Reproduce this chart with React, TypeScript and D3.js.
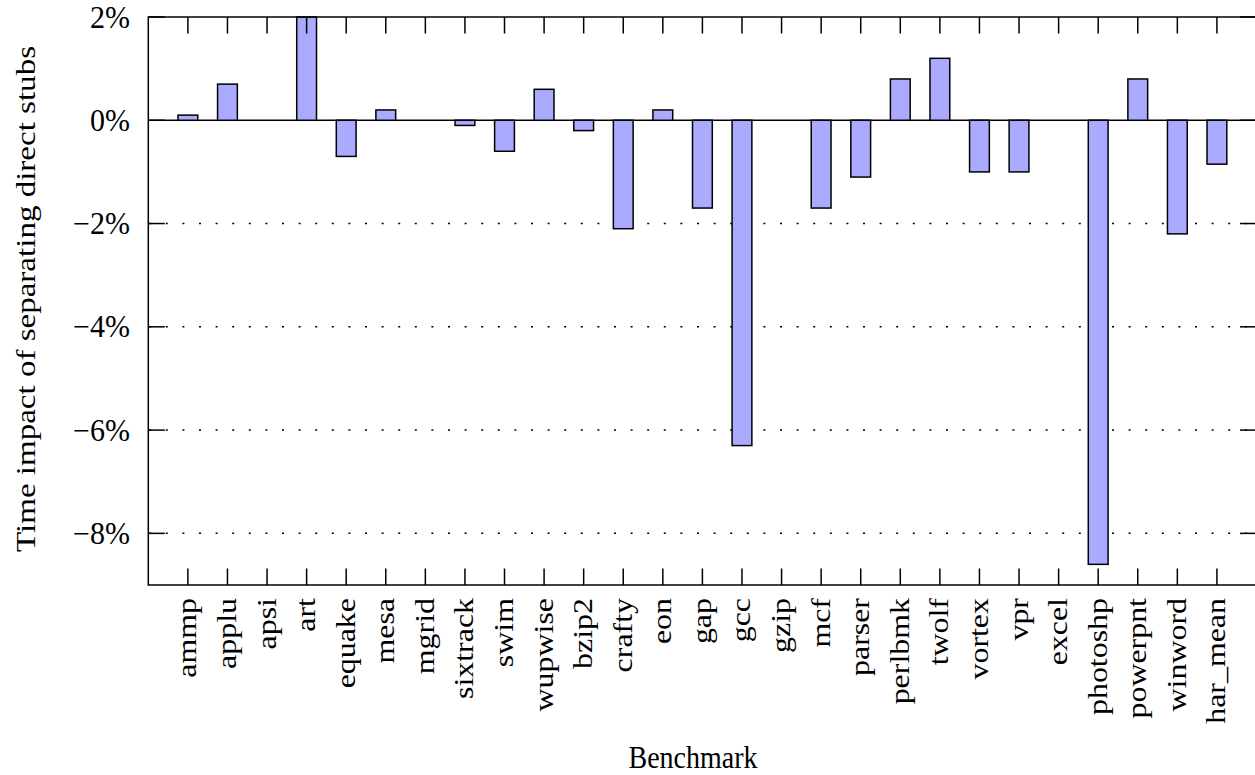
import React from "react";
import * as d3 from "d3";

const categories = [
  "ammp", "applu", "apsi", "art", "equake", "mesa", "mgrid", "sixtrack", "swim", "wupwise",
  "bzip2", "crafty", "eon", "gap", "gcc", "gzip", "mcf", "parser", "perlbmk", "twolf",
  "vortex", "vpr", "excel", "photoshp", "powerpnt", "winword", "har_mean",
];
const values = [
  0.1, 0.7, 0, 2.0, -0.7, 0.2, 0, -0.1, -0.6, 0.6,
  -0.2, -2.1, 0.2, -1.7, -6.3, 0, -1.7, -1.1, 0.8, 1.2,
  -1.0, -1.0, 0, -8.6, 0.8, -2.2, -0.85,
];
const yTicks = [2, 0, -2, -4, -6, -8];
const gridTicks = [-2, -4, -6, -8];
const xLabel = "Benchmark";
const yLabel = "Time impact of separating direct stubs";

const W = 1255;
const H = 775;
const left = 148.3;
const right = 1256.5;
const top = 17;
const bottom = 585;
const FONT = "'Liberation Serif', 'Times New Roman', serif";
const FS = 28;
const SY = 1.14;

export default function App() {
  const x = d3.scaleLinear().domain([-1, 27]).range([left, right]);
  const y = d3.scaleLinear().domain([-9, 2]).range([bottom, top]);
  const bw = x(0.5) - x(0);
  const tickLen = 16.5;
  const fmt = (v: number) => (v < 0 ? "\u2212" + Math.abs(v) : String(v)) + "%";

  return (
    <svg
      width={W}
      height={H}
      style={{ position: "absolute", left: 0, top: 0, background: "#fff" }}
      fontFamily={FONT}
    >
      <rect x={0} y={0} width={W} height={H} fill="#fff" />
      {/* dotted grid */}
      {gridTicks.map((t) => (
        <line
          key={"g" + t}
          x1={left}
          x2={right}
          y1={y(t)}
          y2={y(t)}
          stroke="#000"
          strokeWidth={1.5}
          strokeDasharray="2,14.6"
          strokeDashoffset={-17.5}
        />
      ))}
      {/* zero axis */}
      <line x1={left} x2={right} y1={y(0)} y2={y(0)} stroke="#000" strokeWidth={1.5} />
      {/* bars */}
      {values.map((v, i) => (
        <rect
          key={categories[i]}
          x={x(i) - bw / 2}
          y={Math.min(y(v), y(0))}
          width={bw}
          height={Math.abs(y(v) - y(0))}
          fill="#aaaaff"
          stroke="#000"
          strokeWidth={1.5}
        />
      ))}
      {/* border */}
      <rect
        x={left}
        y={top}
        width={right - left}
        height={bottom - top}
        fill="none"
        stroke="#000"
        strokeWidth={1.5}
      />
      {/* y ticks */}
      {yTicks.map((t) => (
        <g key={"yt" + t}>
          <line x1={left} x2={left + tickLen} y1={y(t)} y2={y(t)} stroke="#000" strokeWidth={1.5} />
          <line x1={right - tickLen} x2={right} y1={y(t)} y2={y(t)} stroke="#000" strokeWidth={1.5} />
          <text
            transform={`translate(130,${y(t) + 10.5}) scale(1,1.05)`}
            textAnchor="end"
            fontSize={30}
            fill="#000"
          >
            {fmt(t)}
          </text>
        </g>
      ))}
      {/* x ticks */}
      {categories.map((c, i) => (
        <g key={"xt" + c}>
          <line x1={x(i)} x2={x(i)} y1={bottom} y2={bottom - tickLen} stroke="#000" strokeWidth={1.5} />
          <line x1={x(i)} x2={x(i)} y1={top} y2={top + tickLen} stroke="#000" strokeWidth={1.5} />
          <text
            transform={`translate(${x(i) + 8.5},${598}) scale(1,${SY}) rotate(-90)`}
            textAnchor="end"
            fontSize={FS}
            fill="#000"
          >
            {c}
          </text>
        </g>
      ))}
      <text
        transform={`translate(693,768) scale(1,${SY})`}
        textAnchor="middle"
        fontSize={FS}
        fill="#000"
      >
        {xLabel}
      </text>
      <text
        transform={`translate(35,${299}) scale(1,1.18) rotate(-90)`}
        textAnchor="middle"
        fontSize={FS}
        fill="#000"
      >
        {yLabel}
      </text>
    </svg>
  );
}
